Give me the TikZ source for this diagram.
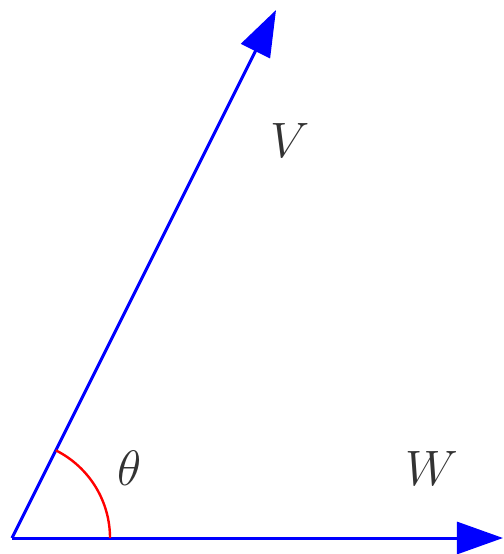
\documentclass[tikz,border=0pt]{standalone}
\usepackage{amsmath}
\usepackage{tikz}
\usetikzlibrary{arrows.meta, positioning, calc}
\tikzset{
  vec/.style  = {-{Triangle[length=23pt, width=16pt]}, blue, line width=1.5pt},
  ang/.style  = {red, line width=1.2pt},
  lbl/.style  = {font=\fontsize{23}{27}\selectfont, text=black!80, inner sep=0pt},
}
\begin{document}
\begin{tikzpicture}[x=0.5pt, y=-0.5pt]
  \useasboundingbox (0,0) rectangle (504,554);
  \coordinate (o) at (12,538);
  \coordinate (vt) at (276,10);
  \coordinate (wt) at (503,538);
  \draw[vec] (o) -- (vt);
  \draw[vec] (o) -- (wt);
  \draw[ang] ($(o)+(98,0)$) arc[start angle=0, end angle=-63.4, radius=98];
  \node[lbl] (v) at (290,140) {$V$};
  \node[lbl] (w) at (432,468) {$W$};
  \node[lbl] (th) at (130,468) {$\theta$};
\end{tikzpicture}
\end{document}
